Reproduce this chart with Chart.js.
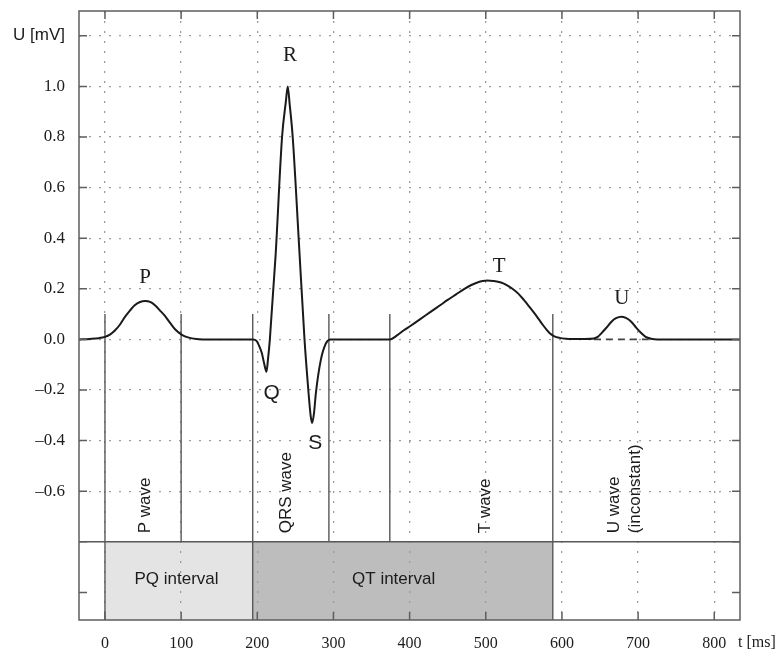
<!DOCTYPE html>
<html>
<head>
<meta charset="utf-8">
<script src="https://cdn.jsdelivr.net/npm/chart.js@4/dist/chart.umd.min.js"></script>
<style>
  html, body { margin: 0; padding: 0; background: #fff; }
  canvas { display: block; }
</style>
</head>
<body>
<canvas id="ecg" width="782" height="653"></canvas>
<script>
// One heartbeat of an ECG lead: time in ms, voltage in mV
const ecgTime = [
  -34, -20, -8, 0, 7, 13, 20, 26, 33, 39, 46, 53, 60, 66, 72, 79, 86, 92, 101, 110, 120, 140,
  194, 199, 203, 206, 209, 212, 214, 216.5, 224, 232.5, 237.5, 240, 242.5, 246.5, 254.5, 262,
  267, 270, 272, 274.5, 277, 283.5, 290, 296, 320,
  374, 384, 392, 401, 414, 428, 440, 450, 461, 472, 481, 489, 496, 502, 510, 520, 528, 535,
  543, 550, 557, 564, 570, 575, 580, 584, 590, 597, 605, 616, 630,
  642, 647, 652, 658, 665, 671, 678, 684, 691, 697, 704, 710, 717, 725, 760, 834
];
const ecgVoltage = [
  0, 0.002, 0.005, 0.01, 0.02, 0.035, 0.06, 0.088, 0.115, 0.135, 0.148, 0.152, 0.147, 0.134, 0.115, 0.092, 0.063, 0.04, 0.018, 0.007, 0.002, 0,
  0, -0.006, -0.03, -0.055, -0.095, -0.128, -0.08, 0, 0.33, 0.8, 0.94, 1.0, 0.93, 0.8, 0.39, 0,
  -0.2, -0.3, -0.33, -0.29, -0.21, -0.08, -0.016, 0, 0,
  0, 0.017, 0.035, 0.053, 0.08, 0.11, 0.135, 0.156, 0.178, 0.2, 0.215, 0.225, 0.231, 0.233, 0.231, 0.225, 0.214, 0.2,
  0.18, 0.156, 0.13, 0.103, 0.078, 0.057, 0.038, 0.024, 0.012, 0.006, 0.003, 0.002, 0.002,
  0.004, 0.01, 0.025, 0.045, 0.07, 0.084, 0.09, 0.085, 0.07, 0.048, 0.025, 0.01, 0.003, 0, 0, 0
];

// Isoelectric reference drawn under the U wave
const uBaseTime = [642, 714];
const uBaseVoltage = [0, 0];

// Axis ticks
const xTickValues = [0, 100, 200, 300, 400, 500, 600, 700, 800];
const xTickLabels = ['0', '100', '200', '300', '400', '500', '600', '700', '800'];
const yTickValues = [-1.0, -0.8, -0.6, -0.4, -0.2, 0.0, 0.2, 0.4, 0.6, 0.8, 1.0, 1.2];
const yTickLabels = ['', '', '\u20130.6', '\u20130.4', '\u20130.2', '0.0', '0.2', '0.4', '0.6', '0.8', '1.0', 'U [mV]'];
const xUnitLabel = 't [ms]';

// Segment boundaries (ms) marking the waves
const segmentBounds = [0, 100, 194, 294, 374, 588];
const segmentTop = 0.1;
const segmentBottom = -0.8;

// Intervals shown as shaded bands under the trace
const intervalNames = ['PQ interval', 'QT interval'];
const intervalStart = [0, 194];
const intervalEnd = [194, 588];
const intervalLabelAt = [94, 379];
const intervalLabelLevel = -0.947;

// Peak letters
const peakNames = ['P', 'Q', 'R', 'S', 'T', 'U'];
const peakTime = [52.6, 219, 243, 276, 517.5, 678.5];
const peakLevel = [0.246, -0.211, 1.124, -0.409, 0.287, 0.162];

// Wave names written upward inside the segments
const waveNames = ['P wave', 'QRS wave', 'T wave', 'U wave', '(inconstant)'];
const waveNameTime = [52.6, 238, 500, 669, 697];
const waveNameBase = -0.766;

const SERIF = '"Liberation Serif", "DejaVu Serif", serif';
const SANS = '"Liberation Sans", Arial, sans-serif';
const TEXT = '#1c1c1c';

const decor = {
  id: 'ecgDecor',
  beforeDraw(chart) {
    const { ctx, chartArea: a, scales: { x, y } } = chart;
    ctx.save();
    ctx.fillStyle = '#fff';
    ctx.fillRect(0, 0, chart.width, chart.height);
    const fills = ['#e4e4e4', '#bdbdbd'];
    intervalNames.forEach((n, i) => {
      const x0 = x.getPixelForValue(intervalStart[i]);
      const x1 = x.getPixelForValue(intervalEnd[i]);
      const y0 = y.getPixelForValue(segmentBottom);
      ctx.fillStyle = fills[i];
      ctx.fillRect(x0, y0, x1 - x0, a.bottom - y0);
    });
    ctx.restore();
  },
  beforeDatasetsDraw(chart) {
    const { ctx, chartArea: a, scales: { x, y } } = chart;
    ctx.save();
    ctx.strokeStyle = '#585858';
    ctx.lineWidth = 1.4;
    ctx.beginPath();
    segmentBounds.forEach(t => {
      const px = x.getPixelForValue(t);
      ctx.moveTo(px, y.getPixelForValue(segmentTop));
      ctx.lineTo(px, y.getPixelForValue(segmentBottom));
    });
    // band edges
    const edges = [intervalStart[0], intervalEnd[0], intervalEnd[1]];
    edges.forEach(t => {
      const px = x.getPixelForValue(t);
      ctx.moveTo(px, y.getPixelForValue(segmentBottom));
      ctx.lineTo(px, a.bottom);
    });
    // separator between trace and bands
    const ys = y.getPixelForValue(segmentBottom);
    ctx.moveTo(a.left, ys);
    ctx.lineTo(a.right, ys);
    ctx.stroke();
    ctx.restore();
  },
  afterDraw(chart) {
    const { ctx, chartArea: a, scales: { x, y } } = chart;
    ctx.save();
    // frame
    ctx.strokeStyle = '#5e5e5e';
    ctx.lineWidth = 1.5;
    ctx.strokeRect(a.left, a.top, a.right - a.left, a.bottom - a.top);
    // inward tick marks on all four sides
    const tl = 8;
    ctx.beginPath();
    xTickValues.forEach(v => {
      const px = x.getPixelForValue(v);
      ctx.moveTo(px, a.bottom); ctx.lineTo(px, a.bottom - tl);
      ctx.moveTo(px, a.top); ctx.lineTo(px, a.top + tl);
    });
    yTickValues.forEach(v => {
      const py = y.getPixelForValue(v);
      ctx.moveTo(a.left, py); ctx.lineTo(a.left + tl, py);
      ctx.moveTo(a.right, py); ctx.lineTo(a.right - tl, py);
    });
    ctx.stroke();

    // peak letters
    ctx.fillStyle = TEXT;
    ctx.textAlign = 'center';
    ctx.textBaseline = 'middle';
    peakNames.forEach((n, i) => {
      const fam = (n === 'Q' || n === 'S') ? SANS : SERIF;
      ctx.font = '21px ' + fam;
      ctx.fillText(n, x.getPixelForValue(peakTime[i]), y.getPixelForValue(peakLevel[i]));
    });

    // wave names, rotated
    ctx.font = '17px ' + SANS;
    ctx.textAlign = 'left';
    waveNames.forEach((n, i) => {
      ctx.save();
      ctx.translate(x.getPixelForValue(waveNameTime[i]), y.getPixelForValue(waveNameBase));
      ctx.rotate(-Math.PI / 2);
      ctx.fillText(n, 0, 0);
      ctx.restore();
    });

    // interval names
    ctx.font = '17px ' + SANS;
    ctx.textAlign = 'center';
    intervalNames.forEach((n, i) => {
      ctx.fillText(n, x.getPixelForValue(intervalLabelAt[i]), y.getPixelForValue(intervalLabelLevel));
    });

    // unit of the time axis
    ctx.font = '16px ' + SERIF;
    ctx.textAlign = 'left';
    ctx.fillText(xUnitLabel, a.right - 2, a.bottom + 23);
    ctx.restore();
  }
};

const gridColor = '#9c9c9c';

new Chart(document.getElementById('ecg'), {
  type: 'line',
  data: {
    datasets: [
      {
        label: 'U baseline',
        data: uBaseTime.map((t, i) => ({ x: t, y: uBaseVoltage[i] })),
        borderColor: '#444',
        borderWidth: 1.6,
        borderDash: [7, 5],
        pointRadius: 0,
        fill: false,
        order: 2
      },
      {
        label: 'ECG',
        data: ecgTime.map((t, i) => ({ x: t, y: ecgVoltage[i] })),
        borderColor: '#1a1a1a',
        borderWidth: 2,
        pointRadius: 0,
        cubicInterpolationMode: 'monotone',
        fill: false,
        order: 1
      }
    ]
  },
  options: {
    responsive: false,
    animation: false,
    devicePixelRatio: 1,
    layout: { padding: { top: 11, right: 42, left: 0, bottom: 0 } },
    plugins: { legend: { display: false }, tooltip: { enabled: false } },
    scales: {
      x: {
        type: 'linear',
        min: -34.1,
        max: 833.8,
        afterBuildTicks: s => { s.ticks = xTickValues.map(v => ({ value: v })); },
        afterFit: s => { s.height = 33; s.paddingLeft = 0; s.paddingRight = 0; },
        ticks: {
          callback: (v, i) => xTickLabels[i],
          font: { family: SERIF, size: 16 },
          color: TEXT,
          padding: 14,
          maxRotation: 0,
          autoSkip: false
        },
        grid: { color: gridColor, lineWidth: 1.3, drawTicks: false },
        border: { display: false, dash: [2, 8] }
      },
      y: {
        type: 'linear',
        min: -1.109,
        max: 1.298,
        afterBuildTicks: s => { s.ticks = yTickValues.map(v => ({ value: v })); },
        afterFit: s => { s.width = 79; s.paddingTop = 0; s.paddingBottom = 0; },
        ticks: {
          callback: (v, i) => yTickLabels[i],
          font: c => (c.index === yTickValues.length - 1)
            ? { family: SANS, size: 17 }
            : { family: SERIF, size: 17 },
          color: TEXT,
          padding: 14,
          autoSkip: false
        },
        grid: {
          color: c => (c.tick && c.tick.value < -0.7) ? 'rgba(0,0,0,0)' : gridColor,
          lineWidth: 1.3,
          drawTicks: false
        },
        border: { display: false, dash: [2, 8] }
      }
    }
  },
  plugins: [decor]
});
</script>
</body>
</html>
